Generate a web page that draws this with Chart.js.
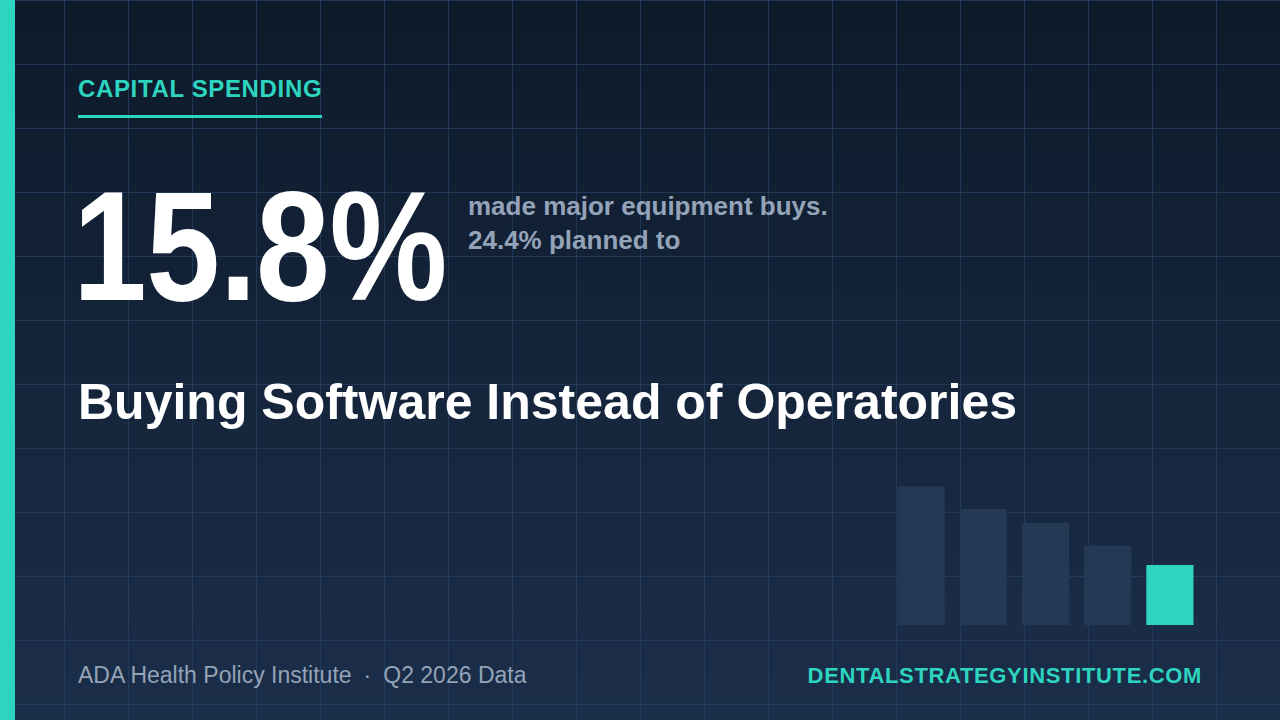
<!DOCTYPE html>
<html>
<head>
<meta charset="utf-8">
<script src="https://cdn.jsdelivr.net/npm/chart.js@4"></script>
<style>
  html, body { margin: 0; padding: 0; }
  body {
    width: 1280px; height: 720px; overflow: hidden; position: relative;
    font-family: "Liberation Sans", Arial, sans-serif;
    background-color: #13223a;
    background-image:
      linear-gradient(to right, rgba(38, 64, 100, 0.75) 1px, transparent 1px),
      linear-gradient(to bottom, rgba(38, 64, 100, 0.75) 1px, transparent 1px),
      linear-gradient(180deg, #0d1a2a 0%, #1b2e4a 100%);
    background-size: 64px 64px, 64px 64px, 100% 100%;
  }
  .accent { position: absolute; left: 0; top: 0; width: 15px; height: 720px; background: #2dd4bf; }
  .kicker { position: absolute; left: 78px; top: 77px; font-size: 24px; line-height: 1; font-weight: 700; color: #2dd4bf; letter-spacing: 0.65px; }
  .kicker-line { position: absolute; left: 78px; top: 115px; width: 244px; height: 3px; background: #2dd4bf; }
  .big { position: absolute; left: 73px; top: 168px; font-size: 156px; line-height: 1; font-weight: 700; color: #ffffff; letter-spacing: -0.5px; transform: scaleX(0.85); transform-origin: left top; white-space: nowrap; }
  .desc { position: absolute; left: 468px; top: 189px; font-size: 26px; line-height: 34px; font-weight: 700; color: #94a3b8; }
  .title { position: absolute; left: 78px; top: 377px; font-size: 50px; line-height: 1; font-weight: 700; color: #ffffff; }
  .source { position: absolute; left: 78px; top: 664px; font-size: 23px; line-height: 1; color: #94a3b8; }
  .source .dot { margin: 0 12px; }
  .site { position: absolute; right: 78px; top: 665px; font-size: 22px; line-height: 1; font-weight: 700; color: #2dd4bf; letter-spacing: 0.65px; }
  .chart-box { position: absolute; left: 890px; top: 485px; width: 311px; height: 140px; }
</style>
</head>
<body>
<div class="accent"></div>
<div class="kicker">CAPITAL SPENDING</div>
<div class="kicker-line"></div>
<div class="big">15.8%</div>
<div class="desc">made major equipment buys.<br>24.4% planned to</div>
<div class="title">Buying Software Instead of Operatories</div>
<div class="source">ADA Health Policy Institute<span class="dot">·</span>Q2 2026 Data</div>
<div class="site">DENTALSTRATEGYINSTITUTE.COM</div>
<div class="chart-box"><canvas id="bars"></canvas></div>
<script>
// decorative bar strip, last bar is the highlighted stat
const categories = ['A', 'B', 'C', 'D', 'E'];
const values = [36.5, 30.5, 26.8, 20.8, 15.8];
const highlightIndex = 4;

const barColors = values.map((v, i) => i === highlightIndex ? '#2dd4bf' : '#233955');

new Chart(document.getElementById('bars').getContext('2d'), {
  type: 'bar',
  data: {
    labels: categories,
    datasets: [{
      data: values,
      backgroundColor: barColors,
      borderWidth: 0,
      categoryPercentage: 1,
      barPercentage: 0.758
    }]
  },
  options: {
    responsive: true,
    maintainAspectRatio: false,
    animation: false,
    devicePixelRatio: 1,
    layout: { padding: 0 },
    plugins: { legend: { display: false }, tooltip: { enabled: false } },
    scales: {
      x: { display: false, grid: { display: false } },
      y: { display: false, min: 0, max: 36.8, grid: { display: false } }
    }
  }
});
</script>
</body>
</html>
